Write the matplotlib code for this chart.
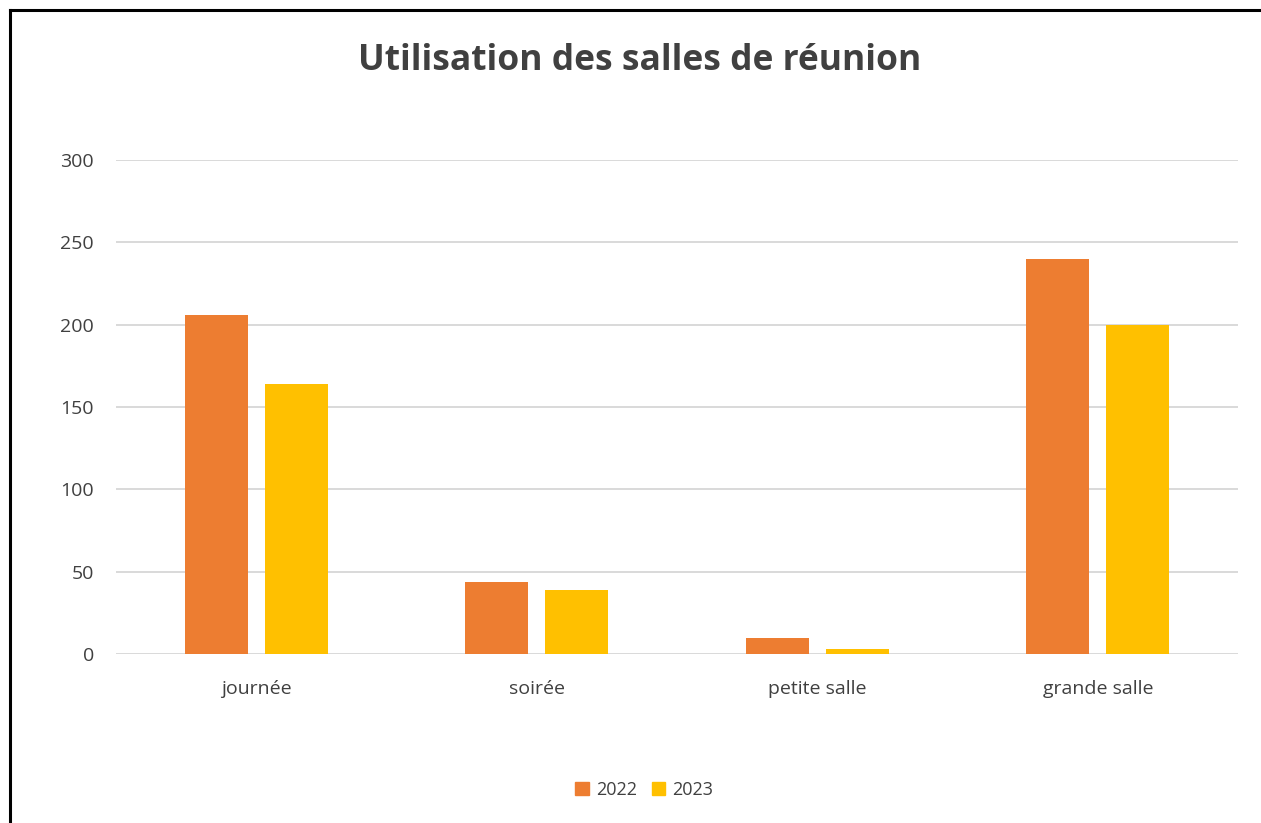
import matplotlib.pyplot as plt
import numpy as np
from matplotlib.lines import Line2D
from matplotlib.patches import Patch

categories = ['journée', 'soirée', 'petite salle', 'grande salle']
values_2022 = [206, 44, 10, 240]
values_2023 = [164, 39, 3, 200]
series_labels = ['2022', '2023']
yticks = [0, 50, 100, 150, 200, 250, 300]

plt.rcParams['font.family'] = ['Open Sans', 'DejaVu Sans']
text_color = '#404040'
c2022 = '#ED7D31'
c2023 = '#FFC000'

fig = plt.figure(figsize=(12.61, 8.23), dpi=100)
ax = fig.add_axes([0.092, 0.2053, 0.8898, 0.6003])

x = np.arange(len(categories))
w = 0.225
off = 0.1425
ax.bar(x - off, values_2022, w, color=c2022, zorder=3)
ax.bar(x + off, values_2023, w, color=c2023, zorder=3)

ax.set_xlim(-0.5, len(categories) - 0.5)
ax.set_ylim(0, 300)
ax.set_yticks(yticks)
ax.set_xticks(x)
ax.set_xticklabels(categories)
ax.tick_params(axis='both', length=0, labelsize=14, colors=text_color)
ax.tick_params(axis='y', pad=16)
ax.tick_params(axis='x', pad=19)
ax.grid(axis='y', color='#d9d9d9', linewidth=1.4, zorder=0)
for s in ax.spines.values():
    s.set_visible(False)

fig.text(0.507, 0.926, 'Utilisation des salles de réunion', ha='center', va='center',
         fontsize=25.5, fontweight='bold', color=text_color)

handles = [Patch(color=c2022), Patch(color=c2023)]
fig.legend(handles, series_labels, loc='center', bbox_to_anchor=(0.511, 0.04), ncol=2,
           frameon=False, fontsize=13, labelcolor=text_color, handlelength=0.75,
           handleheight=0.75, handletextpad=0.4, columnspacing=0.8)

# chart border (only left and top visible in the crop)
fig.add_artist(Line2D([0.0079, 0.0079], [0.0, 0.988], transform=fig.transFigure, color='black', linewidth=2.2))
fig.add_artist(Line2D([0.0079, 1.0], [0.988, 0.988], transform=fig.transFigure, color='black', linewidth=2.2))

fig.savefig('out.png', dpi=100)
